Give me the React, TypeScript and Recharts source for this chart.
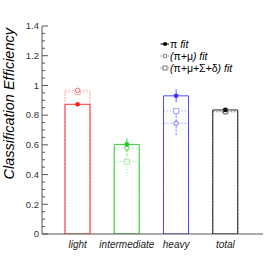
import React from "react";
import {
  ComposedChart,
  Bar,
  Cell,
  Scatter,
  ErrorBar,
  XAxis,
  YAxis,
  Label,
  Legend,
} from "recharts";

const categories = ["light", "intermediate", "heavy", "total"];
const piFit = [0.873, 0.603, 0.93, 0.835];
const piFitErr = [0.008, 0.043, 0.044, 0.008];
const piMuFit = [0.967, 0.578, 0.745, 0.822];
const piMuFitErr = [0.025, 0.05, 0.08, 0.01];
const allFit = [0.955, 0.487, 0.828, 0.826];
const allFitErr = [0.015, 0.1, 0.03, 0.01];

const yMajorTicks = [0, 0.2, 0.4, 0.6, 0.8, 1, 1.2, 1.4];
const yMinorStep = 0.05;
const legendLabels = ["π fit", "(π+μ) fit", "(π+μ+Σ+δ) fit"];

const mainColors = ["#ff2020", "#20cc20", "#3a3aff", "#111111"];
const midColors = ["#ff6060", "#40d840", "#5c5cff", "#555555"];
const lightColors = ["#ffa8a8", "#98ec98", "#a0a0ff", "#999999"];

const axisColor = "#555";
const font = "'Liberation Sans', Arial, Helvetica, sans-serif";

const rows = categories.map((name, i) => ({
  name,
  pi: piFit[i],
  piErr: piFitErr[i],
  piMu: piMuFit[i],
  piMuErr: piMuFitErr[i],
  all: allFit[i],
  allErr: allFitErr[i],
}));

const yTicks = Array.from(
  { length: Math.round(1.4 / yMinorStep) + 1 },
  (_, i) => +(i * yMinorStep).toFixed(2)
);

const YTick = (props: any) => {
  const { x, y, payload } = props;
  const v = payload.value;
  const major = yMajorTicks.some((t) => Math.abs(t - v) < 1e-6);
  return (
    <g>
      <line x1={x} x2={x + (major ? 6 : 3)} y1={y} y2={y} stroke={axisColor} />
      {major && (
        <text
          x={x - 3}
          y={y}
          dy="0.35em"
          textAnchor="end"
          fontSize={9.5}
          fontFamily={font}
          fill="#333"
        >
          {Number.isInteger(v) ? String(v) : v.toFixed(1)}
        </text>
      )}
    </g>
  );
};

const XTick = (props: any) => {
  const { x, y, payload } = props;
  return (
    <text
      x={x}
      y={y + 14}
      textAnchor="middle"
      fontSize={10}
      fontStyle="italic"
      fontFamily={font}
      fill="#222"
    >
      {payload.value}
    </text>
  );
};

const YTitle = (props: any) => {
  const { viewBox } = props;
  const x = viewBox.x + 14;
  const y = viewBox.y + 2;
  return (
    <text
      x={x}
      y={y}
      transform={`rotate(-90 ${x} ${y})`}
      textAnchor="end"
      fontSize={14.5}
      fontStyle="italic"
      fontFamily={font}
      fill="#000"
    >
      Classification Efficiency
    </text>
  );
};

const markerShape = (kind: string, color: string) => (p: any) => {
  const { cx, cy } = p;
  if (cx == null || cy == null) return <g />;
  if (kind === "pi") return <circle cx={cx} cy={cy} r={2.4} fill={color} />;
  if (kind === "piMu")
    return <circle cx={cx} cy={cy} r={2.2} fill="white" stroke={color} strokeWidth={0.9} />;
  return (
    <rect
      x={cx - 2.5}
      y={cy - 2.5}
      width={5}
      height={5}
      fill="white"
      stroke={color}
      strokeWidth={0.9}
    />
  );
};

const Greek = ({ text }: { text: string }) => (
  <>
    {text.split(/([πμΣδ])/).map((s, i) =>
      /[πμΣδ]/.test(s) ? (
        <span key={i} style={{ fontStyle: "normal" }}>
          {s}
        </span>
      ) : (
        <span key={i}>{s}</span>
      )
    )}
  </>
);

const LegendBox = () => (
  <div
    style={{
      fontFamily: font,
      fontSize: 10.5,
      fontStyle: "italic",
      color: "#000",
      lineHeight: "12px",
    }}
  >
    {legendLabels.map((label, i) => (
      <div key={label} style={{ display: "flex", alignItems: "center", height: 12 }}>
        <svg width={10} height={12} style={{ display: "block" }}>
          <line
            x1={0.5}
            x2={9}
            y1={6}
            y2={6}
            stroke={i === 0 ? "#000" : "#888"}
            strokeDasharray={i === 0 ? undefined : "1.5 1"}
          />
          {i === 0 && <circle cx={5} cy={6} r={2} fill="#000" />}
          {i === 1 && <circle cx={5} cy={6} r={1.8} fill="white" stroke="#777" />}
          {i === 2 && (
            <rect x={3} y={4} width={4} height={4} fill="white" stroke="#777" />
          )}
        </svg>
        <span style={{ whiteSpace: "nowrap" }}>
          <Greek text={label} />
        </span>
      </div>
    ))}
  </div>
);

const fits = [
  { key: "pi", err: "piErr", colors: mainColors, dash: undefined },
  { key: "piMu", err: "piMuErr", colors: midColors, dash: "2 1.5" },
  { key: "all", err: "allErr", colors: lightColors, dash: "1.5 1.5" },
];

export default function App() {
  return (
    <div
      style={{
        position: "absolute",
        left: 0,
        top: 0,
        width: 276,
        height: 266,
        background: "#fff",
      }}
    >
      <ComposedChart
        width={276}
        height={266}
        data={rows}
        margin={{ top: 26, right: 13, bottom: 0, left: 0 }}
        barSize={25}
        barGap={-25}
      >
        <XAxis
          dataKey="name"
          type="category"
          allowDuplicatedCategory={false}
          padding={{ left: 11, right: 13 }}
          height={32}
          tickSize={0}
          tickMargin={0}
          tickLine={false}
          interval={0}
          tick={<XTick />}
          axisLine={{ stroke: axisColor }}
        />
        <XAxis
          xAxisId="top"
          dataKey="name"
          orientation="top"
          height={0}
          tick={false}
          tickLine={false}
          axisLine={{ stroke: axisColor }}
        />
        <YAxis
          type="number"
          domain={[0, 1.4]}
          ticks={yTicks}
          interval={0}
          width={42}
          tickSize={0}
          tickMargin={0}
          tickLine={false}
          tick={<YTick />}
          axisLine={{ stroke: axisColor }}
          allowDataOverflow
        >
          <Label content={<YTitle />} />
        </YAxis>
        <YAxis
          yAxisId="right"
          orientation="right"
          domain={[0, 1.4]}
          width={0}
          tick={false}
          tickLine={false}
          axisLine={{ stroke: axisColor }}
        />
        <Legend
          layout="horizontal"
          verticalAlign="middle"
          align="center"
          wrapperStyle={{ left: 160, top: 38, width: 110, height: 36 }}
          content={<LegendBox />}
        />

        <Bar
          dataKey="all"
          fill="none"
          strokeWidth={0.8}
          strokeDasharray="1.5 1.5"
          isAnimationActive={false}
        >
          {rows.map((r, i) => (
            <Cell key={r.name} stroke={lightColors[i]} fill="none" />
          ))}
        </Bar>
        <Bar
          dataKey="piMu"
          fill="none"
          strokeWidth={0.8}
          strokeDasharray="2 1.5"
          isAnimationActive={false}
        >
          {rows.map((r, i) => (
            <Cell key={r.name} stroke={lightColors[i]} fill="none" />
          ))}
        </Bar>
        <Bar dataKey="pi" fill="none" strokeWidth={0.9} isAnimationActive={false}>
          {rows.map((r, i) => (
            <Cell key={r.name} stroke={mainColors[i]} fill="none" />
          ))}
        </Bar>

        {[...fits].reverse().flatMap((f) =>
          rows.map((r, i) => (
            <Scatter
              key={f.key + r.name}
              data={[r]}
              dataKey={f.key}
              isAnimationActive={false}
              shape={markerShape(f.key, f.colors[i])}
            >
              <ErrorBar
                dataKey={f.err}
                direction="y"
                width={0}
                stroke={f.colors[i]}
                strokeWidth={0.8}
                strokeDasharray={f.dash}
                isAnimationActive={false}
              />
            </Scatter>
          ))
        )}
      </ComposedChart>
    </div>
  );
}
